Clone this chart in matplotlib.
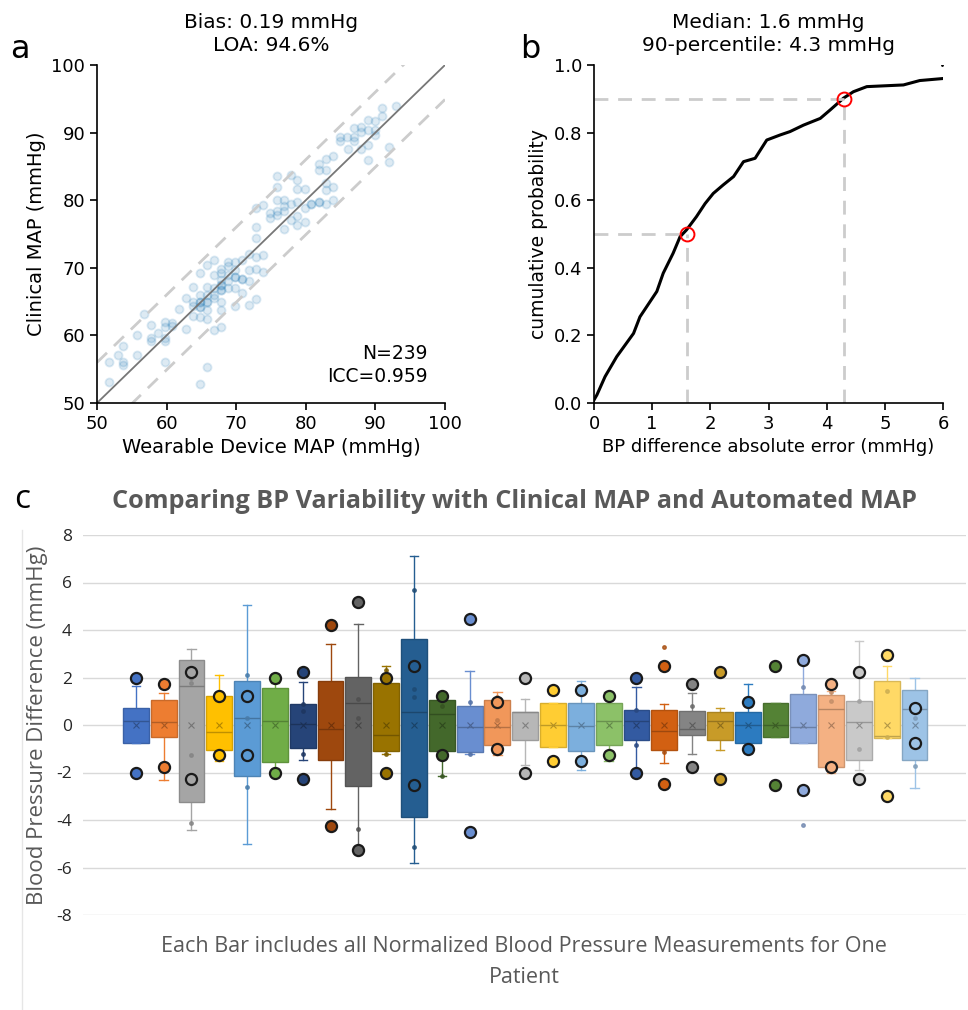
import matplotlib
matplotlib.use("Agg")
import matplotlib.pyplot as plt
from matplotlib.lines import Line2D
import numpy as np

# ---------------- Panel a data ----------------
wearable_map = [51.7, 51.7, 53.0, 53.7, 53.7, 53.7, 55.7, 55.7, 56.8, 57.8, 57.8, 57.8, 58.8,
                59.8, 59.8, 59.8, 59.8, 59.8, 60.8, 60.8, 61.8, 62.8, 62.8, 63.8, 63.8, 63.8,
                63.8, 64.8, 64.8, 64.8, 64.8, 64.8, 64.8, 65.8, 65.8, 65.8, 65.8, 65.8, 65.8,
                65.8, 66.8, 66.8, 66.8, 66.8, 66.8, 66.8, 67.8, 67.8, 67.8, 67.8, 67.8, 67.8,
                67.8, 67.8, 68.8, 68.8, 68.8, 68.8, 68.8, 69.8, 69.8, 69.8, 69.8, 69.8, 70.8,
                70.8, 70.8, 71.8, 71.8, 71.8, 71.8, 72.8, 72.8, 72.8, 72.8, 72.8, 73.9, 73.9,
                72.9, 73.9, 74.85, 74.85, 75.9, 75.9, 75.9, 75.9, 75.9, 76.9, 76.9, 76.9, 76.9,
                77.9, 77.9, 77.9, 78.8, 78.8, 78.8, 78.8, 78.8, 79.9, 79.9, 79.9, 80.8, 81.9,
                81.9, 81.9, 82.9, 82.9, 82.9, 82.9, 82.9, 83.9, 83.9, 83.9,
                84.9, 84.9, 85.9, 86.0, 86.9, 86.9, 86.9, 87.9, 87.9, 88.0, 89.0, 89.0, 89.0,
                89.0, 89.9, 89.9, 89.9, 90.9, 90.9, 92.0, 92.0, 93.0,
                64.8, 64.8, 65.8, 67.8, 67.8, 80.8, 81.9, 70.8, 69.8]
clinical_map = [53.1, 56.1, 57.1, 58.4, 56.1, 55.6, 57.1, 60.0, 63.1, 61.6, 59.6, 59.1, 60.4,
                62.0, 61.3, 59.6, 59.1, 56.0, 61.9, 61.4, 63.9, 61.0, 65.5, 67.2, 65.0, 64.3,
                62.8, 69.2, 66.0, 65.0, 64.2, 62.7, 52.8, 70.4, 67.2, 66.0, 65.0, 63.7, 62.4,
                55.3, 71.1, 69.0, 67.0, 66.0, 65.6, 60.8, 69.8, 69.2, 68.2, 67.5, 66.7, 65.0,
                63.8, 61.3, 70.9, 69.0, 68.0, 67.0, 70.2, 70.9, 69.7, 68.7, 67.0, 64.3, 71.2,
                68.4, 66.3, 72.1, 69.7, 68.0, 64.5, 76.1, 74.4, 71.6, 69.8, 65.4, 69.4, 71.9,
                78.8, 79.3, 78.05, 77.3, 83.6, 82.0, 80.1, 78.4, 77.8, 80.0, 79.1, 78.4, 75.7,
                83.8, 79.5, 77.0, 83.0, 81.7, 79.8, 77.6, 76.4, 81.7, 78.8, 76.8, 79.5, 85.4,
                84.5, 79.8, 86.1, 84.5, 82.5, 81.5, 79.5, 86.5, 80.0, 82.0,
                89.4, 88.8, 89.4, 87.6, 90.7, 89.4, 88.8, 90.9, 90.1, 87.6, 91.9, 90.4, 88.2,
                86.0, 91.7, 90.4, 89.6, 93.7, 92.4, 87.9, 85.7, 93.9,
                65.0, 64.2, 65.0, 67.5, 66.7, 79.5, 79.8, 68.4, 68.7]
loa_upper_offset = 6.0
loa_lower_offset = -5.1

# ---------------- Panel b data ----------------
abs_err = [0.0, 0.05, 0.19, 0.39, 0.68, 0.79, 1.08, 1.19, 1.36, 1.48, 1.59, 1.76, 1.91, 2.05,
           2.22, 2.40, 2.57, 2.77, 2.97, 3.20, 3.37, 3.60, 3.89, 4.06, 4.29, 4.46, 4.69, 5.32,
           5.60, 6.00]
cum_prob = [0.009, 0.024, 0.078, 0.137, 0.206, 0.255, 0.330, 0.384, 0.443, 0.492, 0.512, 0.551,
            0.590, 0.620, 0.645, 0.670, 0.714, 0.724, 0.778, 0.793, 0.803, 0.822, 0.842, 0.867,
            0.902, 0.921, 0.936, 0.941, 0.954, 0.960]
median_err = 1.6
p90_err = 4.3

# ---------------- Panel c data ----------------
box_q3 = [0.72, 1.05, 2.72, 1.23, 1.87, 1.57, 0.87, 1.84, 2.02, 1.77, 3.62, 1.05, 0.79, 1.07, 0.56,
          0.91, 0.93, 0.93, 0.65, 0.65, 0.58, 0.53, 0.55, 0.91, 1.29, 1.25, 1.01, 1.87, 1.49]
box_q1 = [-0.74, -0.50, -3.24, -1.07, -2.13, -1.56, -0.95, -1.47, -2.58, -1.09, -3.87, -1.09, -1.12,
          -0.83, -0.63, -0.93, -1.11, -0.84, -0.65, -1.04, -0.43, -0.62, -0.74, -0.49, -0.74, -1.78,
          -1.49, -0.55, -1.49]
box_med = [0.15, 0.13, 1.65, -0.28, 0.30, 0.15, 0.04, -0.18, 0.94, -0.43, 0.53, 0.48, -0.10, -0.10,
           0.55, 0.00, -0.06, 0.18, 0.18, -0.27, -0.15, 0.15, -0.01, 0.00, -0.10, 0.69, 0.11, -0.48,
           0.67]
box_whi = [1.65, 1.35, 3.20, 2.09, 5.06, 1.77, 1.82, 3.39, 4.24, 2.47, 7.12, 1.10, 2.26, 1.39, 1.09,
           0.91, 1.85, 1.39, 1.60, 0.87, 1.35, 0.73, 1.73, 0.91, 2.72, 1.44, 3.55, 2.47, 1.99]
box_wlo = [-0.74, -2.33, -4.40, -1.51, -5.00, -2.05, -1.49, -3.52, -5.20, -1.23, -5.83, -2.16, -1.20,
           -1.25, -1.67, -0.93, -1.89, -1.51, -2.00, -1.60, -1.20, -1.05, -1.16, -0.49, -0.74, -2.03,
           -1.91, -0.55, -2.64]
box_mean = [0.0] * 29
mark_hi = [1.98, 1.71, 2.22, 1.21, 1.21, 1.98, 2.22, 4.19, 5.20, 1.98, 2.47, 1.22, 4.45, 0.97, 1.98,
           1.46, 1.46, 1.22, 1.98, 2.47, 1.73, 2.22, 0.97, 2.47, 2.72, 1.73, 2.22, 2.96, 0.72]
mark_lo = [-2.00, -1.77, -2.26, -1.28, -1.28, -2.00, -2.26, -4.25, -5.25, -2.00, -2.51, -1.28, -4.50,
           -1.01, -2.00, -1.51, -1.51, -1.28, -2.00, -2.50, -1.77, -2.26, -1.01, -2.51, -2.75, -1.77,
           -2.26, -3.00, -0.77]
small_pts = {3: [-4.12, 2.0, 1.78, -1.28], 5: [2.09, -2.6, 0.3], 7: [0.87, -1.2, 0.6], 9: [-4.38, 1.1, 0.3],
             10: [2.3, -1.23], 11: [5.69, -5.13, 1.5, 1.2], 12: [0.8, -2.16], 13: [0.97, -1.2],
             14: [1.2, 0.2], 19: [-0.86, 0.65], 20: [3.28, -1.15], 21: [0.8], 25: [-4.21, 1.6],
             26: [1.4, 1.0], 27: [1.0, -1.0], 28: [1.45, -0.5], 29: [-1.73, 0.3]}
box_colors = ['#4472C4', '#ED7D31', '#A5A5A5', '#FFC000', '#5B9BD5', '#70AD47', '#264478', '#9E480E',
              '#636363', '#997300', '#255E91', '#43682B', '#698ED0', '#F1975A', '#B7B7B7', '#FFCD33',
              '#7CAFDD', '#8CC168', '#335AA1', '#D26012', '#848484', '#C89B28', '#2C7BC0', '#548235',
              '#8FAADC', '#F4B183', '#C9C9C9', '#FFD966', '#9DC3E6']
y_ticks_c = [8, 6, 4, 2, 0, -2, -4, -6, -8]

# ---------------- Figure ----------------
W, H = 968, 1010
fig = plt.figure(figsize=(W / 100, H / 100), dpi=100)
plt.rcParams['font.family'] = ['DejaVu Sans']


def fx(px):
    return px / W


def fy(py):
    return 1 - py / H


# ---- Panel a ----
axa = fig.add_axes([fx(97), fy(403), fx(445) - fx(97), fy(65) - fy(403)])
axa.scatter(wearable_map, clinical_map, s=34, color='#1f77b4', alpha=0.15, linewidths=1.3)
lim = np.array([50, 100])
axa.plot(lim, lim, color='#777777', lw=1.3)
axa.plot(lim, lim + loa_upper_offset, color='#cccccc', lw=2, ls=(0, (5, 3.5)))
axa.plot(lim, lim + loa_lower_offset, color='#cccccc', lw=2, ls=(0, (5, 3.5)))
axa.set_xlim(50, 100)
axa.set_ylim(50, 100)
axa.set_xticks(range(50, 101, 10))
axa.set_yticks(range(50, 101, 10))
axa.tick_params(labelsize=13, length=5, width=1.2)
for s in ['top', 'right']:
    axa.spines[s].set_visible(False)
for s in ['left', 'bottom']:
    axa.spines[s].set_linewidth(1.2)
axa.set_xlabel('Wearable Device MAP (mmHg)', fontsize=14, labelpad=4)
axa.set_ylabel('Clinical MAP (mmHg)', fontsize=14, labelpad=4)
axa.set_title('Bias: 0.19 mmHg\nLOA: 94.6%', fontsize=14.5, pad=10, linespacing=1.3)
axa.text(0.95, 0.05, 'N=239\nICC=0.959', transform=axa.transAxes, ha='right', va='bottom',
         fontsize=13.5, linespacing=1.25)
fig.text(fx(20), fy(49), 'a', fontsize=23, va='center', ha='center')

# ---- Panel b ----
axb = fig.add_axes([fx(594), fy(403), fx(943) - fx(594), fy(65) - fy(403)])
axb.plot(abs_err, cum_prob, color='black', lw=2.2)
axb.plot([abs_err[-1] - 0.02], [1.0], marker='.', color='black', ms=2)
for xv, yv in [(median_err, 0.5), (p90_err, 0.9)]:
    axb.plot([0, xv], [yv, yv], color='#cccccc', lw=2, ls=(0, (5, 3.5)))
    axb.plot([xv, xv], [0, yv], color='#cccccc', lw=2, ls=(0, (5, 3.5)))
    axb.plot([xv], [yv], marker='o', ms=10, mfc='none', mec='red', mew=1.4)
axb.set_xlim(0, 6)
axb.set_ylim(0, 1.0)
axb.set_xticks(range(0, 7))
axb.set_yticks([0.0, 0.2, 0.4, 0.6, 0.8, 1.0])
axb.tick_params(labelsize=13, length=5, width=1.2)
for s in ['top', 'right']:
    axb.spines[s].set_visible(False)
for s in ['left', 'bottom']:
    axb.spines[s].set_linewidth(1.2)
axb.set_xlabel('BP difference absolute error (mmHg)', fontsize=13, labelpad=4)
axb.set_ylabel('cumulative probability', fontsize=13.5, labelpad=4)
axb.set_title('Median: 1.6 mmHg\n90-percentile: 4.3 mmHg', fontsize=14.5, pad=10, linespacing=1.3)
fig.text(fx(530), fy(49), 'b', fontsize=23, va='center', ha='center')

# ---- Panel c ----
axc = fig.add_axes([fx(83), fy(915), fx(966) - fx(83), fy(535) - fy(915)])
n = len(box_colors)
positions = list(range(1, n + 1))
stats = []
for i in range(n):
    stats.append(dict(med=box_med[i], q1=box_q1[i], q3=box_q3[i], whislo=box_wlo[i],
                      whishi=box_whi[i], mean=box_mean[i], fliers=[]))
bp = axc.bxp(stats, positions=positions, widths=0.93, patch_artist=True, showmeans=True,
             meanline=False, showfliers=False, capwidths=0.3)


def darker(c, f=0.75):
    r, g, b = matplotlib.colors.to_rgb(c)
    return (r * f, g * f, b * f)


for i, col in enumerate(box_colors):
    bp['boxes'][i].set_facecolor(col)
    bp['boxes'][i].set_edgecolor(darker(col, 0.85))
    bp['boxes'][i].set_linewidth(1.0)
    bp['boxes'][i].set_zorder(2)
    bp['medians'][i].set_color(darker(col, 0.75))
    bp['medians'][i].set_linewidth(1.0)
    bp['means'][i].set_marker('x')
    bp['means'][i].set_markeredgecolor(darker(col, 0.7))
    bp['means'][i].set_markersize(5)
    bp['means'][i].set_markeredgewidth(0.8)
    bp['means'][i].set_zorder(3)
    for w in bp['whiskers'][2 * i:2 * i + 2]:
        w.set_color(col)
        w.set_linewidth(1.0)
        w.set_zorder(1.5)
    for c in bp['caps'][2 * i:2 * i + 2]:
        c.set_color(col)
        c.set_linewidth(1.0)

for i, col in enumerate(box_colors):
    p = positions[i]
    pts = small_pts.get(i + 1, [])
    if pts:
        axc.plot([p] * len(pts), pts, ls='none', marker='o', ms=2.5, color=darker(col, 0.8),
                 alpha=0.8, zorder=3)
    axc.plot([p, p], [mark_hi[i], mark_lo[i]], ls='none', marker='o', ms=8, mfc=col,
             mec='#1a1a1a', mew=1.6, zorder=4)

axc.set_xlim(-0.9, 30.85)
axc.set_ylim(-8, 8)
axc.set_yticks(y_ticks_c)
axc.set_yticklabels([str(t) for t in y_ticks_c], fontsize=12.5, family='Open Sans', color='#262626')
axc.set_xticks([])
axc.grid(axis='y', color='#d9d9d9', lw=1.0)
axc.set_axisbelow(True)
for s in axc.spines.values():
    s.set_visible(False)
axc.tick_params(axis='y', length=0, pad=8)
axc.set_ylabel('Blood Pressure Difference (mmHg)', fontsize=16, family='Open Sans',
               color='#595959', labelpad=6)
fig.text(fx(515), fy(502), 'Comparing BP Variability with Clinical MAP and Automated MAP',
         fontsize=18.2, family='Open Sans', fontweight='bold', color='#595959', ha='center',
         va='center')
fig.text(fx(524), fy(962), 'Each Bar includes all Normalized Blood Pressure Measurements for One\nPatient',
         fontsize=15.5, family='Open Sans', color='#595959', ha='center', va='center',
         linespacing=1.6)
fig.text(fx(22), fy(500), 'c', fontsize=24, family='Open Sans', va='center', ha='center')
fig.add_artist(Line2D([fx(22), fx(22)], [fy(530), 0], color='#e6e6e6', lw=1.0))

fig.savefig('out.png', dpi=100)
